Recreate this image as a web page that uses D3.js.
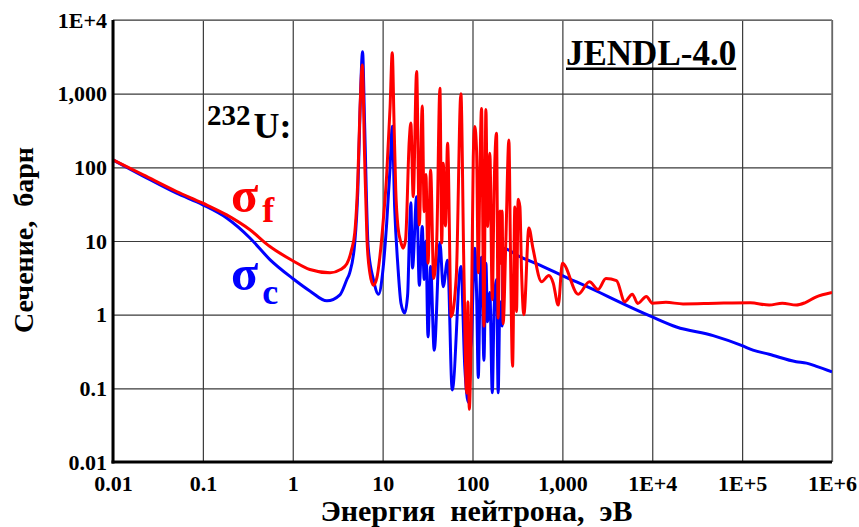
<!DOCTYPE html>
<html>
<head>
<meta charset="utf-8">
<script src="https://cdn.jsdelivr.net/npm/d3@7"></script>
<style>
  body { margin: 0; background: #fff; }
  svg { display: block; }
  text { font-family: 'Liberation Serif', 'Times New Roman', serif; font-weight: bold; }
</style>
</head>
<body>
<div id="chart"></div>
<script>
/* ═══ 232U cross sections (JENDL-4.0), log-log ═══ */

const xTicks = [0.01, 0.1, 1, 10, 100, 1e3, 1e4, 1e5, 1e6];
const xTickLabels = ['0.01', '0.1', '1', '10', '100', '1,000', '1E+4', '1E+5', '1E+6'];
const yTicks = [0.01, 0.1, 1, 10, 100, 1e3, 1e4];
const yTickLabels = ['0.01', '0.1', '1', '10', '100', '1,000', '1E+4'];

// [energy eV, cross section barn]
const fission = [
  [0.01, 126], [0.0217, 79], [0.051, 47], [0.1, 32.6], [0.184, 22.6], [0.334, 14.2],
  [0.557, 8.4], [1.0, 5.4], [1.55, 4.1], [2.6, 3.7], [3.4, 4.1], [4.0, 4.9], [4.5, 7.5],
  [4.9, 13], [5.3, 70], [5.6, 620], [5.95, 2450], [6.3, 140], [6.7, 10.4], [7.2, 3.7],
  [7.9, 2.5], [8.6, 3.1], [9.3, 6], [10, 15], [11.1, 80], [12.1, 650], [12.8, 3600],
  [13.4, 400], [14, 49], [14.8, 15.7], [16, 9.5], [16.9, 8], [18, 10.4], [19.8, 235],
  [20.6, 400], [21.9, 40], [23.9, 2000], [25.6, 16.6], [27.6, 680], [29, 25], [30.3, 80],
  [32, 5], [34.2, 92], [37, 3.1], [40, 10], [43.4, 1180], [45.5, 9.4], [47.2, 114],
  [50, 16], [52.8, 212], [58, 0.94], [66, 3.3], [74.3, 1000], [80, 5], [86, 0.086],
  [89, 1.5], [92, 0.052], [97.7, 1.4], [102, 140], [106, 357], [111, 170], [116, 3.7],
  [121, 92], [126, 630], [134, 0.7], [141, 610], [147, 15.7], [156, 155], [166, 1.6],
  [174, 52], [185, 290], [193, 0.9], [202, 25.5], [208, 5], [214, 25.5], [219, 0.75],
  [235, 10], [254, 235], [265, 6.1], [279, 0.2], [296, 29], [309, 1.1], [322, 37],
  [337, 29], [351, 4], [373, 1.0], [424, 15], [470, 8], [587, 2.8], [707, 3.4],
  [790, 2.7], [900, 1.35], [1000, 5.0], [1500, 1.9], [2000, 2.8], [2500, 2.2],
  [3050, 3.1], [4000, 2.9], [4950, 1.5], [6000, 1.9], [6900, 1.42], [8600, 1.77],
  [1e4, 1.43], [1.42e4, 1.47], [2.2e4, 1.4], [5.2e4, 1.43], [1.23e5, 1.45], [2e5, 1.35],
  [2.8e5, 1.43], [4e5, 1.35], [5e5, 1.45], [6.6e5, 1.73], [1e6, 2.0]
];

const capture = [
  [0.01, 126], [0.0217, 76], [0.051, 44.5], [0.1, 31], [0.184, 20.5], [0.334, 11],
  [0.557, 5.6], [1.0, 3.1], [1.55, 2.1], [2.4, 1.54], [3.35, 1.86], [4.0, 3.0], [4.3, 3.7],
  [4.9, 9.5], [5.3, 49], [5.6, 540], [5.98, 3700], [6.3, 400], [6.9, 8.4], [7.9, 3.0],
  [9, 1.9], [10, 3.7], [11.1, 17.5], [12.1, 100], [12.8, 360], [13.6, 29], [14.8, 4.5],
  [16, 1.43], [17.6, 1.05], [19, 1.9], [19.8, 10], [20.6, 33], [21.5, 4.3], [23.9, 40],
  [25.6, 2.5], [27.6, 15.7], [29, 3], [30.3, 10], [32, 0.5], [34.2, 4.5], [37.5, 0.33],
  [43.4, 9.4], [47.2, 2.4], [52.8, 5.5], [59.5, 0.095], [74.3, 4.5], [82, 0.2],
  [90, 0.064], [94, 0.3], [97.7, 0.5], [102, 3], [106, 8], [111, 2], [116, 0.14],
  [121, 2], [126, 6], [134, 0.24], [141, 5], [147, 0.8], [156, 2], [166, 0.087],
  [174, 1.2], [185, 3], [193, 0.087], [202, 1.5], [214, 0.7], [219, 8], [322, 6.3],
  [562, 4.7], [1000, 3.4], [2600, 2.0], [4000, 1.55], [1e4, 0.93], [1.86e4, 0.68],
  [4.76e4, 0.52], [1e5, 0.38], [1.32e5, 0.33], [2e5, 0.29], [4e5, 0.23], [5.2e5, 0.22],
  [6.6e5, 0.2], [1e6, 0.167]
];

const W = 859, H = 527;
const M = { left: 113, right: 27, top: 20, bottom: 65 };
const pw = W - M.left - M.right;
const ph = H - M.top - M.bottom;

const svg = d3.select('#chart').append('svg')
  .attr('width', W).attr('height', H);

const x = d3.scaleLog().domain([0.01, 1e6]).range([M.left, M.left + pw]);
const y = d3.scaleLog().domain([0.01, 1e4]).range([M.top + ph, M.top]);

// Grid + tick labels
const gx = svg.append('g')
  .attr('transform', `translate(0,${M.top + ph})`)
  .call(d3.axisBottom(x).tickValues(xTicks)
    .tickFormat((d, i) => xTickLabels[i]).tickSize(-ph).tickPadding(13));
const gy = svg.append('g')
  .attr('transform', `translate(${M.left},0)`)
  .call(d3.axisLeft(y).tickValues(yTicks)
    .tickFormat((d, i) => yTickLabels[i]).tickSize(-pw).tickPadding(6));

[gx, gy].forEach(g => {
  g.select('.domain').remove();
  g.selectAll('.tick line').attr('stroke', '#3a3a3a').attr('stroke-width', 1.2);
  g.selectAll('.tick text').attr('fill', '#000').attr('font-size', 22)
    .style('font-family', "'Liberation Serif', serif").style('font-weight', 'bold');
});

// Frame: thin grey top/right, heavy left/bottom
svg.append('line').attr('x1', M.left).attr('x2', M.left + pw).attr('y1', M.top).attr('y2', M.top)
  .attr('stroke', '#777').attr('stroke-width', 1.5);
svg.append('line').attr('x1', M.left + pw).attr('x2', M.left + pw).attr('y1', M.top).attr('y2', M.top + ph)
  .attr('stroke', '#777').attr('stroke-width', 1.5);

// Curves
svg.append('clipPath').attr('id', 'clip').append('rect')
  .attr('x', M.left).attr('y', M.top - 2).attr('width', pw).attr('height', ph + 2);

const line = d3.line()
  .x(d => x(d[0])).y(d => y(d[1]))
  .curve(d3.curveMonotoneX);

const curves = svg.append('g').attr('clip-path', 'url(#clip)');
curves.append('path').datum(capture)
  .attr('fill', 'none').attr('stroke', '#0000ff').attr('stroke-width', 3)
  .attr('stroke-linejoin', 'round').attr('d', line);
curves.append('path').datum(fission)
  .attr('fill', 'none').attr('stroke', '#ff0000').attr('stroke-width', 3)
  .attr('stroke-linejoin', 'round').attr('d', line);

svg.append('line').attr('x1', M.left).attr('x2', M.left).attr('y1', M.top).attr('y2', M.top + ph + 1.5)
  .attr('stroke', '#000').attr('stroke-width', 3);
svg.append('line').attr('x1', M.left - 1.5).attr('x2', M.left + pw).attr('y1', M.top + ph).attr('y2', M.top + ph)
  .attr('stroke', '#000').attr('stroke-width', 3);

// Annotations
const iso = svg.append('text').attr('x', 207).attr('y', 125);
iso.append('tspan').attr('font-size', 29).text('232');
iso.append('tspan').attr('font-size', 36).attr('dx', 3).attr('dy', 13).text('U:');

const sf = svg.append('text').attr('x', 231).attr('y', 212).attr('fill', '#ff0000');
sf.append('tspan').attr('font-size', 50).text('σ');
sf.append('tspan').attr('font-size', 36).attr('dx', 4).attr('dy', 10).text('f');

const sc = svg.append('text').attr('x', 231).attr('y', 290).attr('fill', '#0000ff');
sc.append('tspan').attr('font-size', 50).text('σ');
sc.append('tspan').attr('font-size', 36).attr('dx', 4).attr('dy', 14).text('c');

const lib = svg.append('text').attr('x', 566).attr('y', 65).attr('font-size', 35).text('JENDL-4.0');
const lw = lib.node().getComputedTextLength();
svg.append('rect').attr('x', 566).attr('y', 67.5).attr('width', lw).attr('height', 2.5).attr('fill', '#000');

// Axis titles
svg.append('text')
  .attr('x', M.left + pw / 2 + 4).attr('y', 521)
  .attr('text-anchor', 'middle').attr('font-size', 30)
  .style('white-space', 'pre')
  .text('Энергия  нейтрона,  эВ');

svg.append('text')
  .attr('transform', `translate(33,${M.top + ph / 2 - 1}) rotate(-90)`)
  .attr('text-anchor', 'middle').attr('font-size', 28)
  .style('white-space', 'pre')
  .text('Сечение,  барн');
</script>
</body>
</html>
